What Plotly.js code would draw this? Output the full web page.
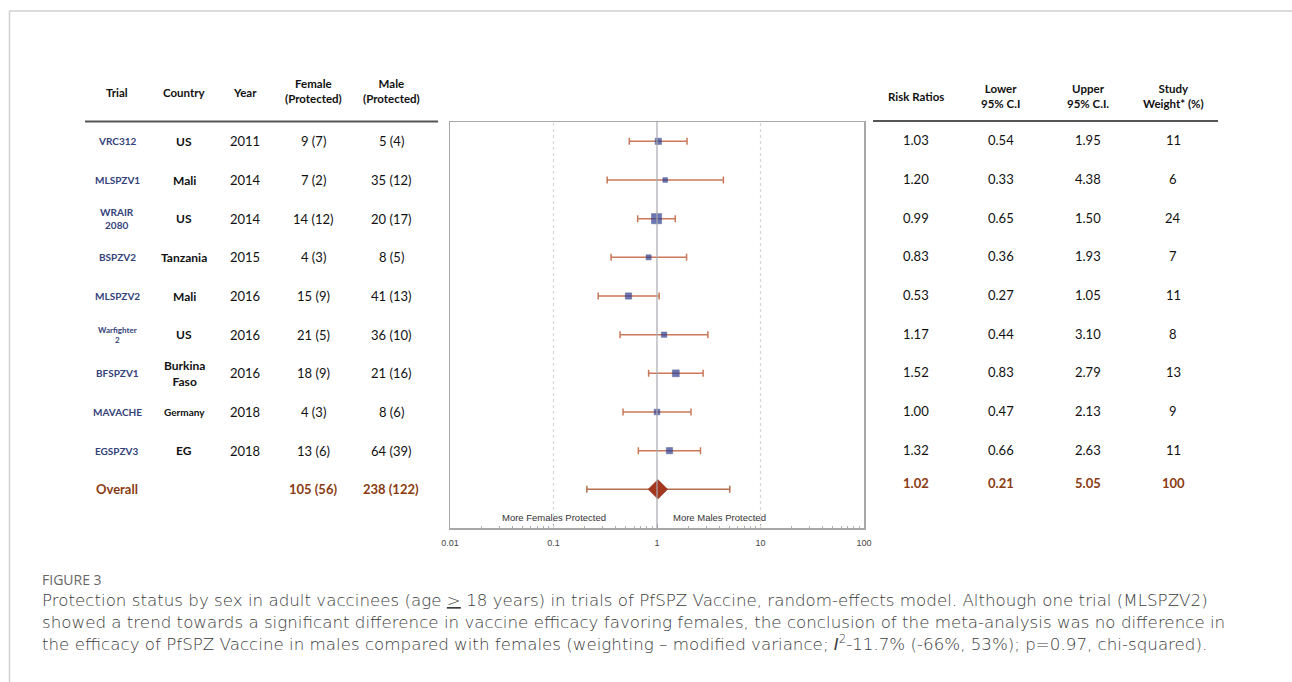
<!DOCTYPE html>
<html>
<head>
<meta charset="utf-8">
<script src="https://cdn.plot.ly/plotly-3.0.1.min.js"></script>
<style>
html,body{margin:0;padding:0;background:#fff;}
#chart{width:1292px;height:682px;}
</style>
</head>
<body>
<div id="chart"></div>
<script>
// ---- data ----
const trials = ['VRC312','MLSPZV1','WRAIR<br>2080','BSPZV2','MLSPZV2','Warfighter<br>2','BFSPZV1','MAVACHE','EGSPZV3'];
const countries = ['US','Mali','US','Tanzania','Mali','US','Burkina<br>Faso','Germany','EG'];
const years = ['2011','2014','2014','2015','2016','2016','2016','2018','2018'];
const female = ['9 (7)','7 (2)','14 (12)','4 (3)','15 (9)','21 (5)','18 (9)','4 (3)','13 (6)'];
const male = ['5 (4)','35 (12)','20 (17)','8 (5)','41 (13)','36 (10)','21 (16)','8 (6)','64 (39)'];
const riskRatio = [1.03,1.20,0.99,0.83,0.53,1.17,1.52,1.00,1.32];
const lowerCI = [0.54,0.33,0.65,0.36,0.27,0.44,0.83,0.47,0.66];
const upperCI = [1.95,4.38,1.50,1.93,1.05,3.10,2.79,2.13,2.63];
const weight = [11,6,24,7,11,8,13,9,11];
const overallLabel = 'Overall';
const overallFemale = '105 (56)';
const overallMale = '238 (122)';
const overallRR = 1.02, overallLower = 0.21, overallUpper = 5.05, overallWeight = 100;
const xTickVals = [0.01,0.1,1,10,100];
const xTickText = ['0.01','0.1','1','10','100'];

// ---- layout helpers ----
const W = 1292, H = 682;
const px = v => v / W;
const py = v => 1 - v / H;
const rowY = trials.map((_, i) => -i);
const overallY = -trials.length;

const tableFont = 'Lato, "Open Sans", sans-serif';
const brown = '#8a3b12';
const annotations = [];
function add(text, x, y, opts) {
  annotations.push(Object.assign({
    text: text, x: px(x), y: y, xref: 'paper', yref: 'y',
    showarrow: false, xanchor: 'center', yanchor: 'middle',
    font: {family: tableFont, size: 13, color: '#111'}
  }, opts || {}));
}
function addHead(text, x, y) {
  annotations.push({text: '<b>' + text + '</b>', x: px(x), y: py(y), xref: 'paper', yref: 'paper',
    showarrow: false, xanchor: 'center', yanchor: 'middle',
    font: {family: tableFont, size: 11.5, color: '#111'}});
}

// headers
addHead('Trial', 117, 92);
addHead('Country', 184, 92);
addHead('Year', 245, 92);
addHead('Female<br>(Protected)', 313, 91);
addHead('Male<br>(Protected)', 391, 91);
addHead('Risk Ratios', 916, 97);
addHead('Lower<br>95% C.I', 1001, 96);
addHead('Upper<br>95% C.I.', 1088, 96);
addHead('Study<br>Weight* (%)', 1173, 96);

// rows
trials.forEach((t, i) => {
  const y = rowY[i];
  const small = t.indexOf('Warfighter') === 0;
  add('<b>' + t + '</b>', 117, y, {font: {family: tableFont, size: small ? 8 : 10, color: '#34427a'}});
  const c = countries[i];
  add('<b>' + c + '</b>', 184, y, {font: {family: tableFont, size: c === 'Germany' ? 10 : 12, color: '#111'}});
  add(years[i], 245, y);
  add(female[i], 313, y);
  add(male[i], 391, y);
  add(riskRatio[i].toFixed(2), 916, y, {yshift: 1});
  add(lowerCI[i].toFixed(2), 1001, y, {yshift: 1});
  add(upperCI[i].toFixed(2), 1088, y, {yshift: 1});
  add(String(weight[i]), 1173, y, {yshift: 1});
});
const bf = {family: tableFont, size: 13, color: brown};
add('<b>' + overallLabel + '</b>', 117, overallY, {font: bf});
add('<b>' + overallFemale + '</b>', 313, overallY, {font: bf});
add('<b>' + overallMale + '</b>', 391, overallY, {font: bf});
add('<b>' + overallRR.toFixed(2) + '</b>', 916, overallY, {font: bf, yshift: 6});
add('<b>' + overallLower.toFixed(2) + '</b>', 1001, overallY, {font: bf, yshift: 6});
add('<b>' + overallUpper.toFixed(2) + '</b>', 1088, overallY, {font: bf, yshift: 6});
add('<b>' + overallWeight + '</b>', 1173, overallY, {font: bf, yshift: 6});

// direction labels (annotation x on a log axis is given as log10 of the value)
annotations.push({text: 'More Females Protected', x: Math.log10(0.1), xref: 'x', y: 0.027, yref: 'y domain',
  showarrow: false, xanchor: 'center', yanchor: 'middle', font: {family: 'Liberation Sans, Arial', size: 9.5, color: '#333'}});
annotations.push({text: 'More Males Protected', x: Math.log10(4), xref: 'x', y: 0.027, yref: 'y domain',
  showarrow: false, xanchor: 'center', yanchor: 'middle', font: {family: 'Liberation Sans, Arial', size: 9.5, color: '#333'}});

// caption
const capFont = {family: '"DejaVu Sans", sans-serif', size: 16.7, weight: 200, color: '#3c3c3c'};
const capLines = [
  'Protection status by sex in adult vaccinees (age <u>&gt;</u> 18 years) in trials of PfSPZ Vaccine, random-effects model. Although one trial (MLSPZV2)',
  'showed a trend towards a significant difference in vaccine efficacy favoring females, the conclusion of the meta-analysis was no difference in',
  'the efficacy of PfSPZ Vaccine in males compared with females (weighting – modified variance; <i>I</i><sup>2</sup>-11.7% (-66%, 53%); p=0.97, chi-squared).'
];
annotations.push({text: 'FIGURE 3', x: px(40), y: py(579), xref: 'paper', yref: 'paper', showarrow: false,
  xanchor: 'left', yanchor: 'middle', font: {family: '"Open Sans", sans-serif', size: 14, weight: 500, color: '#666'}});
capLines.forEach((l, i) => {
  annotations.push({text: l, x: px(40), y: py(600 + i * 21.5), xref: 'paper', yref: 'paper', showarrow: false,
    xanchor: 'left', yanchor: 'middle', font: capFont});
});

const shapes = [
  // frame
  {type: 'line', xref: 'paper', yref: 'paper', x0: px(9), x1: 1, y0: py(11), y1: py(11), line: {color: '#d0d0d0', width: 1.5}},
  {type: 'line', xref: 'paper', yref: 'paper', x0: px(9.5), x1: px(9.5), y0: py(11), y1: 0, line: {color: '#d0d0d0', width: 1.5}},
  // table header rules
  {type: 'line', xref: 'paper', yref: 'paper', x0: px(85), x1: px(438), y0: py(121.5), y1: py(121.5), line: {color: '#555', width: 2}},
  {type: 'line', xref: 'paper', yref: 'paper', x0: px(873), x1: px(1218), y0: py(121), y1: py(121), line: {color: '#555', width: 2}},
  // reference lines
  {type: 'line', xref: 'x', yref: 'y domain', x0: 1, x1: 1, y0: 0, y1: 1, line: {color: '#a8a8b0', width: 1.2}},
  {type: 'line', xref: 'x', yref: 'y domain', x0: 0.1, x1: 0.1, y0: 0, y1: 1, line: {color: '#d6d6d6', width: 1.2, dash: 'dot'}},
  {type: 'line', xref: 'x', yref: 'y domain', x0: 10, x1: 10, y0: 0, y1: 1, line: {color: '#d6d6d6', width: 1.2, dash: 'dot'}}
];

const traces = [
  {
    type: 'scatter', mode: 'markers', x: riskRatio, y: rowY,
    marker: {symbol: 'square', size: weight.map(w => 3 + w * 0.3), color: '#2d3d92', line: {color: '#1e2a6e', width: 0.5}},
    error_x: {type: 'data', symmetric: false,
      array: upperCI.map((u, i) => u - riskRatio[i]),
      arrayminus: lowerCI.map((l, i) => riskRatio[i] - l),
      color: '#c9795a', thickness: 1.5, width: 3.5},
    cliponaxis: false
  },
  {
    type: 'scatter', mode: 'markers', x: [overallRR], y: [overallY],
    marker: {symbol: 'diamond', size: 15, color: '#a4381f', line: {color: '#8a2b15', width: 0.5}},
    error_x: {type: 'data', symmetric: false, array: [overallUpper - overallRR], arrayminus: [overallRR - overallLower],
      color: '#b4704e', thickness: 1.5, width: 3.5},
    cliponaxis: false
  }
];

const layout = {
  width: W, height: H,
  margin: {l: 0, r: 0, t: 0, b: 0},
  paper_bgcolor: '#fff', plot_bgcolor: 'rgba(0,0,0,0)',
  showlegend: false,
  xaxis: {
    type: 'log', range: [-2, 2], domain: [px(450), px(864)],
    tickvals: xTickVals, ticktext: xTickText,
    ticks: 'inside', ticklen: 4, tickcolor: '#999', tickwidth: 1,
    minor: {ticks: 'inside', dtick: 'D1', ticklen: 2.5, tickcolor: '#b0b0b0', tickwidth: 1, showgrid: false},
    ticklabelstandoff: 6,
    showline: true, mirror: true, linecolor: '#a8a8a8', linewidth: 1.5,
    showgrid: false, zeroline: false,
    tickfont: {family: 'Liberation Sans, Arial', size: 9, color: '#444'}
  },
  yaxis: {
    range: [-10, 0.5], domain: [py(528), py(122)],
    showline: true, mirror: true, linecolor: '#a8a8a8', linewidth: 1.5,
    showticklabels: false, ticks: '', showgrid: false, zeroline: false
  },
  shapes: shapes,
  annotations: annotations
};

Plotly.newPlot('chart', traces, layout, {staticPlot: true, displayModeBar: false});
</script>
</body>
</html>
